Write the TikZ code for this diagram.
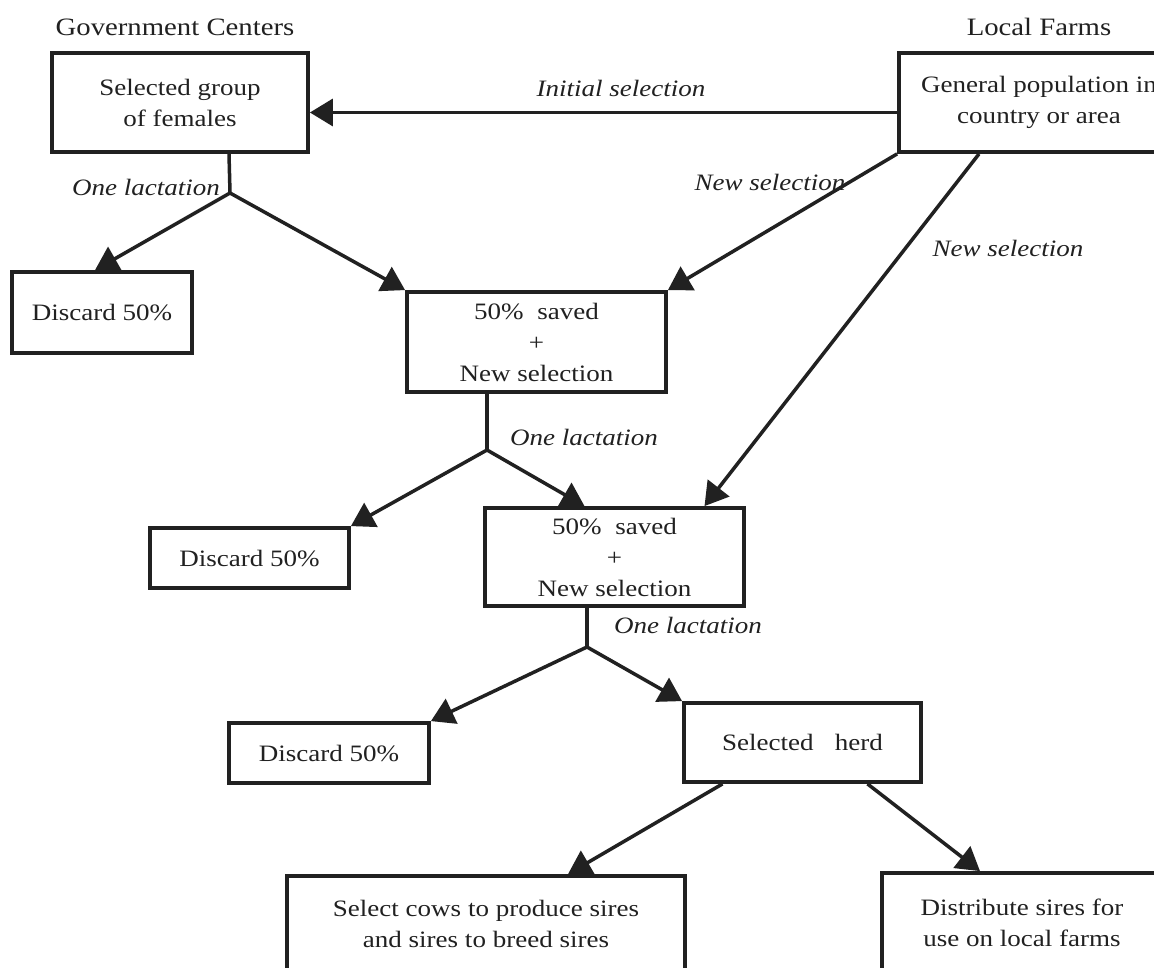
\documentclass[tikz,border=0pt]{standalone}
\usepackage{fontspec}
\setmainfont{Liberation Serif}[FakeStretch=1.15]
\usetikzlibrary{arrows.meta}
\definecolor{ink}{gray}{0.13}
\newcommand\boxfnt{\fontsize{23.5}{31}\selectfont}
\newcommand\lblfnt{\fontsize{23.5}{31}\selectfont\itshape}
\newcommand\headfnt{\fontsize{25}{30}\selectfont}
\begin{document}
\begin{tikzpicture}[x=1pt,y=-1pt,
  box/.style={draw=ink, line width=3.8pt, rectangle, inner sep=0pt, align=center, font=\boxfnt, text=ink},
  lbl/.style={font=\lblfnt, text=ink, inner sep=0pt},
  head/.style={font=\headfnt, text=ink, inner sep=0pt},
  link/.style={draw=ink, line width=3.5pt},
  arr/.style={link, -{Triangle[length=23pt,width=27pt]}}]

% page frame; boxes running off the edge are cut
\fill[white] (0,0) rectangle (1154,968);
\useasboundingbox (0,0) rectangle (1154,968);
\clip (0,0) rectangle (1154,968);

% column headings
\node[head] (gov) at (175,27) {Government Centers};
\node[head] (farms) at (1039,27) {Local Farms};

% boxes
\node[box, minimum width=256pt, minimum height=99pt] (grp) at (180,102.5) {Selected group\\of females};
\node[box, minimum width=280pt, minimum height=99pt] (pop) at (1039,102.5) {General population in\\country or area};
\node[box, minimum width=180pt, minimum height=81pt] (dis1) at (102,312.5) {Discard 50\%};
\node[box, minimum width=259pt, minimum height=100pt] (sav1) at (536.5,342) {50\%\ \ saved\\+\\New selection};
\node[box, minimum width=199pt, minimum height=60pt] (dis2) at (249.5,558) {Discard 50\%};
\node[box, minimum width=259pt, minimum height=98pt] (sav2) at (614.5,557) {50\%\ \ saved\\+\\New selection};
\node[box, minimum width=200pt, minimum height=60pt] (dis3) at (329,753) {Discard 50\%};
\node[box, minimum width=237pt, minimum height=79pt] (herd) at (802.5,742.5) {Selected\hspace{0.9em}herd};
\node[box, minimum width=398pt, minimum height=96pt] (cows) at (486,924) {Select cows to produce sires\\and sires to breed sires};
\node[box, minimum width=280pt, minimum height=99pt] (dist) at (1022,922.5) {Distribute sires for\\use on local farms};

% branching points after each lactation
\coordinate (j1) at (230,193);
\coordinate (j2) at (487,450);
\coordinate (j3) at (587,647);

% connectors
\draw[arr] ([yshift=-10pt]pop.west) -- ([yshift=-10pt]grp.east);
\draw[link] ([xshift=49pt]grp.south) -- (j1);
\draw[arr] (j1) -- ([xshift=-7pt]dis1.north);
\draw[arr] (j1) -- (sav1.north west);
\draw[arr] (pop.south west) -- (sav1.north east);
\draw[arr] ([xshift=-60pt]pop.south) -- ([xshift=90pt]sav2.north);
\draw[link] ([xshift=-49.5pt]sav1.south) -- (j2);
\draw[arr] (j2) -- (dis2.north east);
\draw[arr] (j2) -- ([xshift=-30pt]sav2.north);
\draw[link] ([xshift=-27.5pt]sav2.south) -- (j3);
\draw[arr] (j3) -- (dis3.north east);
\draw[arr] (j3) -- (herd.north west);
\draw[arr] ([xshift=-80pt]herd.south) -- ([xshift=82pt]cows.north);
\draw[arr] ([xshift=65pt]herd.south) -- ([xshift=-42pt]dist.north);

% connector labels
\node[lbl] (linit) at (621,88) {Initial selection};
\node[lbl] (lone1) at (146,187) {One lactation};
\node[lbl] (lnew1) at (770,182) {New selection};
\node[lbl] (lnew2) at (1008,248) {New selection};
\node[lbl] (lone2) at (584,437) {One lactation};
\node[lbl] (lone3) at (688,625) {One lactation};
\end{tikzpicture}
\end{document}
